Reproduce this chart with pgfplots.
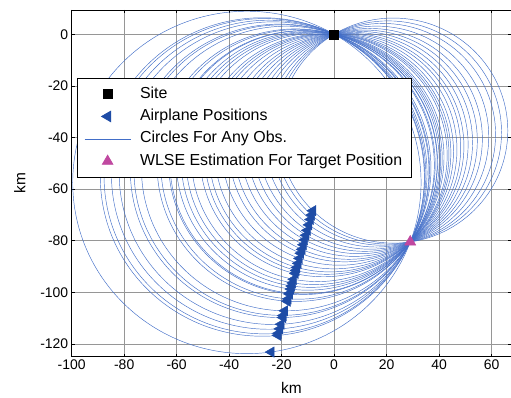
\documentclass[border=0pt]{standalone}
\usepackage{fontspec}
\setmainfont{Liberation Sans}
\usepackage{pgfplots}
\usepackage{pgfplotstable}
\pgfplotsset{compat=1.18}
\definecolor{circcol}{RGB}{66,110,200}
\definecolor{planecol}{RGB}{30,76,166}
\definecolor{wlse}{RGB}{192,72,160}
\definecolor{gridcol}{RGB}{150,150,150}

\pgfplotstableread{
cx cy r
-33.24 -57.45 66.37
-27.36 -55.33 61.73
-26.56 -55.04 61.11
-24.95 -54.46 59.90
-23.25 -53.85 58.66
-20.76 -52.95 56.88
-19.95 -52.66 56.32
-18.26 -52.05 55.16
-14.64 -50.75 52.82
-13.76 -50.43 52.27
-11.90 -49.76 51.17
-11.58 -49.65 50.98
-10.05 -49.10 50.11
-8.85 -48.66 49.46
-7.64 -48.23 48.83
-6.27 -47.73 48.14
-4.02 -46.92 47.09
-2.81 -46.49 46.57
-1.60 -46.05 46.08
0.01 -45.47 45.47
2.02 -44.75 44.79
4.04 -44.02 44.20
5.65 -43.44 43.81
7.66 -42.72 43.40
9.67 -41.99 43.09
11.68 -41.27 42.89
13.70 -40.54 42.79
16.11 -39.67 42.82
18.53 -38.80 43.00
20.54 -38.08 43.26
22.55 -37.35 43.63
}\circles

\pgfplotstableread{
x y
-24.0 -123.2
-21.4 -116.7
-21.2 -115.9
-20.7 -114.2
-20.2 -112.4
-19.5 -109.8
-19.3 -109.0
-18.8 -107.2
-17.8 -103.5
-17.5 -102.6
-17.0 -100.7
-16.9 -100.4
-16.5 -98.8
-16.2 -97.6
-15.8 -96.4
-15.4 -95.0
-14.8 -92.7
-14.5 -91.6
-14.2 -90.4
-13.7 -88.8
-13.2 -86.9
-12.7 -84.9
-12.2 -83.4
-11.7 -81.6
-11.2 -79.7
-10.7 -77.9
-10.2 -76.0
-9.6 -73.9
-9.0 -71.8
-8.6 -70.1
-8.1 -68.4
}\planes

\pgfplotstablegetrowsof{\circles}
\pgfmathtruncatemacro{\nrows}{\pgfplotsretval-1}

\begin{document}
\begin{tikzpicture}
\useasboundingbox (-71.7bp,-41.3bp) rectangle (439.3bp,356.7bp);
\begin{axis}[
  at={(0,0)}, anchor=south west,
  scale only axis,
  width=439.3bp, height=346.7bp,
  xmin=-100, xmax=67.4,
  ymin=-125, ymax=9.4,
  xtick={-100,-80,...,60},
  ytick={-120,-100,...,0},
  grid=major,
  grid style={gridcol, line width=0.6bp},
  tick align=inside,
  major tick length=3bp,
  axis line style={black, line width=0.8bp},
  tick style={black, line width=0.6bp},
  /pgf/number format/assume math mode=true,
  tick label style={font=\fontsize{14}{16}\selectfont},
  label style={font=\fontsize{15.5}{18}\selectfont},
  xlabel={km}, ylabel={km},
  xlabel style={at={(axis description cs:0.5,0)}, anchor=north, inner sep=0pt, yshift=-25.5bp},
  ylabel style={at={(axis description cs:0,0.5)}, anchor=center, yshift=52bp},
  legend cell align=left,
  legend image code/.code={\draw[mark repeat=2,mark phase=2,#1] plot coordinates {(0bp,0bp) (23bp,0bp) (46bp,0bp)}; \path (53bp,0bp);},
  legend style={at={(0.012,0.804)}, anchor=north west, draw=black, line width=0.8bp, fill=white,
    font=\fontsize{16}{18}\selectfont, inner xsep=7bp, inner ysep=4.5bp,
    nodes={text height=11.5bp, text depth=3.5bp, inner ysep=3.7bp, line width=0.5bp}},
]
\pgfplotsinvokeforeach{0,...,\nrows}{
  \pgfplotstablegetelem{#1}{cx}\of\circles \let\cx\pgfplotsretval
  \pgfplotstablegetelem{#1}{cy}\of\circles \let\cy\pgfplotsretval
  \pgfplotstablegetelem{#1}{r}\of\circles \let\rr\pgfplotsretval
  \edef\temp{\noexpand\draw[circcol, line width=0.45bp] (axis cs:\cx,\cy) ellipse [x radius=\rr, y radius=\rr];}
  \temp
}
\addplot[only marks, mark=triangle*, mark size=6bp, color=planecol, mark options={rotate=90}, forget plot] table[x=x,y=y] {\planes};
\addplot[only marks, mark=square*, mark size=4.5bp, color=black, forget plot] coordinates {(0,0)};
\addplot[only marks, mark=triangle*, mark size=6.5bp, color=wlse, forget plot] coordinates {(29,-80.5)};
\addlegendimage{only marks, mark=square*, mark size=4.5bp, black}
\addlegendentry{Site}
\addlegendimage{only marks, mark=triangle*, mark size=6bp, color=planecol, mark options={rotate=90}}
\addlegendentry{Airplane Positions}
\addlegendimage{circcol, line width=0.5bp}
\addlegendentry{Circles For Any Obs.}
\addlegendimage{only marks, mark=triangle*, mark size=6bp, color=wlse}
\addlegendentry{WLSE Estimation For Target Position}
\end{axis}
\end{tikzpicture}
\end{document}
